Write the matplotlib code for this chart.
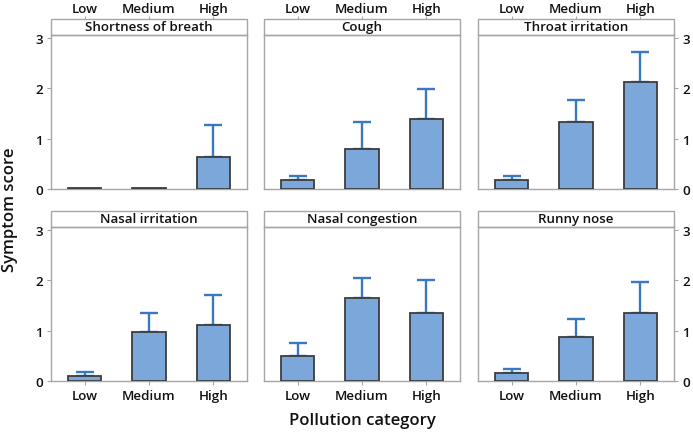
import matplotlib.pyplot as plt
from matplotlib.patches import Rectangle

plt.rcParams['font.family'] = ['Open Sans', 'DejaVu Sans']
plt.rcParams['font.weight'] = 'semibold'

categories = ["Low", "Medium", "High"]
symptoms = ["Shortness of breath", "Cough", "Throat irritation",
            "Nasal irritation", "Nasal congestion", "Runny nose"]

# mean score and upper error per pollution category
shortness = [0.02, 0.02, 0.64]
shortness_err = [0.0, 0.0, 0.62]
cough = [0.18, 0.79, 1.38]
cough_err = [0.08, 0.54, 0.60]
throat = [0.18, 1.33, 2.12]
throat_err = [0.08, 0.44, 0.60]
nasal_irr = [0.10, 0.97, 1.10]
nasal_irr_err = [0.08, 0.38, 0.61]
nasal_cong = [0.49, 1.64, 1.35]
nasal_cong_err = [0.27, 0.40, 0.65]
runny = [0.16, 0.87, 1.35]
runny_err = [0.07, 0.36, 0.62]

means = [shortness, cough, throat, nasal_irr, nasal_cong, runny]
errors = [shortness_err, cough_err, throat_err, nasal_irr_err, nasal_cong_err, runny_err]

bar_color = "#7BA7DB"
edge_color = "#3d3d3d"
err_color = "#3A78C2"
frame_color = "#a6a6a6"
text_color = "#111111"

W, H = 693, 435
fig = plt.figure(figsize=(W / 100, H / 100), dpi=100)

col_left = [51, 264, 478]
row_top = [36, 228]
row_bottom = [190, 382]
pw = 196
strip_h = 16
fs = 9.6

for i, name in enumerate(symptoms):
    r, c = divmod(i, 3)
    ph = row_bottom[r] - row_top[r]
    ax = fig.add_axes([col_left[c] / W, 1 - row_bottom[r] / H, pw / W, ph / H])
    x = list(range(len(categories)))
    ax.bar(x, means[i], width=0.52, color=bar_color, edgecolor=edge_color,
           linewidth=1.3, zorder=3)
    xe = [k for k in x if errors[i][k] > 0]
    ax.errorbar(xe, [means[i][k] for k in xe],
                yerr=[[0] * len(xe), [errors[i][k] for k in xe]],
                fmt='none', ecolor=err_color, elinewidth=1.7,
                capsize=6.7, capthick=1.7, zorder=2)
    ax.set_xlim(-0.52, 2.52)
    ax.set_ylim(0, 3.05)
    ax.set_yticks([0, 1, 2, 3])
    for s in ax.spines.values():
        s.set_color(frame_color)
        s.set_linewidth(1.0)

    # strip with panel title
    ax.add_patch(Rectangle((0, 1), 1, strip_h / ph, transform=ax.transAxes,
                           clip_on=False, facecolor="white",
                           edgecolor=frame_color, linewidth=1.0))
    ax.text(0.5, 1 + strip_h / ph / 2, name, transform=ax.transAxes,
            ha="center", va="center", fontsize=fs, color=text_color)

    ax.tick_params(colors=frame_color, labelcolor=text_color, labelsize=fs,
                   length=3)
    if r == 0:
        ax.set_xticks(x)
        ax.tick_params(axis="x", bottom=False, labelbottom=False)
        sec = ax.secondary_xaxis(1 + strip_h / ph)
        sec.set_xticks(x, categories)
        sec.tick_params(colors=frame_color, labelcolor=text_color,
                        labelsize=fs, length=2.5, pad=0.5)
        for s in sec.spines.values():
            s.set_visible(False)
    else:
        ax.set_xticks(x, categories)
        ax.tick_params(axis="x", pad=3)

    if c == 0:
        ax.tick_params(axis="y", pad=3)
    elif c == 2:
        ax.yaxis.tick_right()
        ax.tick_params(axis="y", pad=3)
    else:
        ax.tick_params(axis="y", left=False, labelleft=False)

fig.text(10 / W, 1 - 210 / H, "Symptom score", rotation=90, ha="center",
         va="center", fontsize=12, color=text_color)
fig.text(362 / W, 1 - 421 / H, "Pollution category", ha="center",
         va="center", fontsize=12, color=text_color)

fig.savefig("out.png", dpi=100)
